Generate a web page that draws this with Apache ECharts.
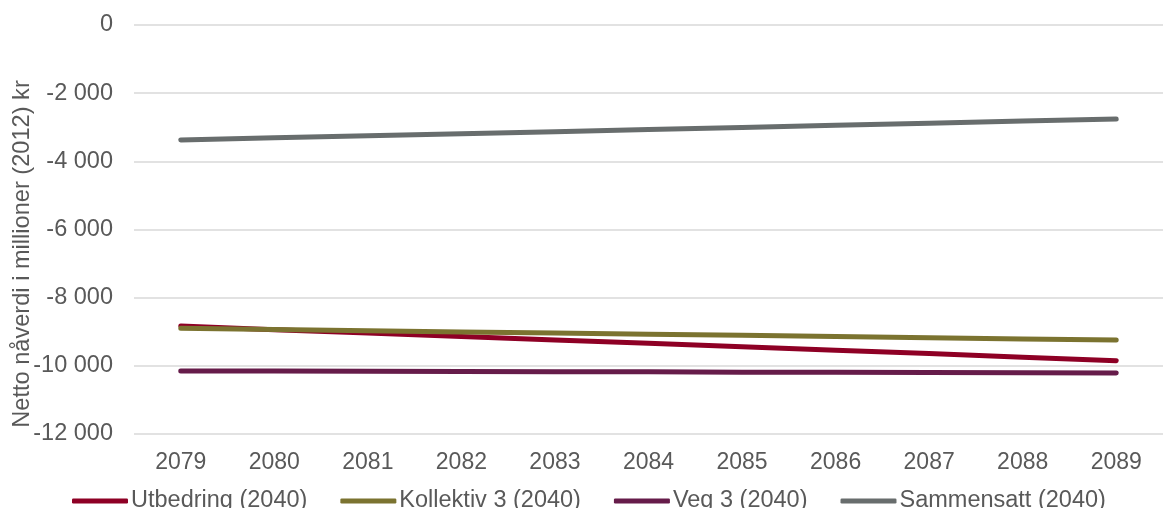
<!DOCTYPE html>
<html>
<head>
<meta charset="utf-8">
<script src="https://cdn.jsdelivr.net/npm/echarts@6/dist/echarts.min.js"></script>
<style>
  html, body { margin: 0; padding: 0; background: #ffffff; }
  #chart { width: 1163px; height: 508px; }
</style>
</head>
<body>
<div id="chart"></div>
<script>
// Years on the category axis
const years = ['2079', '2080', '2081', '2082', '2083', '2084', '2085', '2086', '2087', '2088', '2089'];

// Net present value, million NOK (2012)
const utbedring   = [-8830, -8940, -9040, -9140, -9240, -9340, -9440, -9540, -9640, -9745, -9850];
const kollektiv3  = [-8900, -8935, -8970, -9005, -9040, -9075, -9105, -9140, -9175, -9210, -9245];
const veg3        = [-10150, -10155, -10160, -10165, -10170, -10175, -10185, -10190, -10195, -10200, -10210];
const sammensatt  = [-3375, -3310, -3250, -3190, -3130, -3065, -3005, -2940, -2880, -2820, -2760];

const seriesNames = ['Utbedring (2040)', 'Kollektiv 3 (2040)', 'Veg 3 (2040)', 'Sammensatt (2040)'];
const seriesColors = ['#8e0025', '#7b7330', '#661c4a', '#686d6d'];
const seriesData = [utbedring, kollektiv3, veg3, sammensatt];

const FONT = '"Liberation Sans", Arial, sans-serif';
const TEXT = '#595959';

const chart = echarts.init(document.getElementById('chart'), null, { renderer: 'canvas' });

chart.setOption({
  animation: false,
  backgroundColor: '#ffffff',
  grid: { left: 134, right: -11, top: 25, bottom: 74, containLabel: false },
  legend: {
    top: 484,
    left: 67,
    itemGap: 33,
    itemWidth: 56,
    itemHeight: 5,
    icon: 'roundRect',
    textStyle: { fontFamily: FONT, fontSize: 23.5, color: TEXT, padding: [0, 0, 0, -2] },
    data: seriesNames
  },
  xAxis: {
    type: 'category',
    data: years,
    boundaryGap: true,
    axisLine: { show: false },
    axisTick: { show: false },
    axisLabel: { fontFamily: FONT, fontSize: 23, color: TEXT, margin: 17 }
  },
  yAxis: {
    type: 'value',
    min: -12000,
    max: 0,
    interval: 2000,
    axisLine: { show: false },
    axisTick: { show: false },
    splitLine: { lineStyle: { color: '#d9d9d9', width: 1.5 } },
    axisLabel: {
      fontFamily: FONT, fontSize: 23.5, color: TEXT, margin: 21,
      formatter: v => {
        const s = Math.abs(v).toString().replace(/\B(?=(\d{3})+(?!\d))/g, ' ');
        return (v < 0 ? '-' : '') + s;
      }
    }
  },
  graphic: [{
    type: 'text',
    x: 22,
    y: 254,
    rotation: Math.PI / 2,
    style: {
      text: 'Netto nåverdi i millioner (2012) kr',
      fontFamily: FONT,
      fontSize: 23.6,
      fill: TEXT,
      textAlign: 'center',
      textVerticalAlign: 'middle'
    }
  }],
  series: seriesData.map((d, i) => ({
    name: seriesNames[i],
    type: 'line',
    data: d,
    symbol: 'none',
    showSymbol: false,
    color: seriesColors[i],
    lineStyle: { width: 5, color: seriesColors[i], cap: 'round', join: 'round' },
    itemStyle: { color: seriesColors[i] }
  }))
});
</script>
</body>
</html>
